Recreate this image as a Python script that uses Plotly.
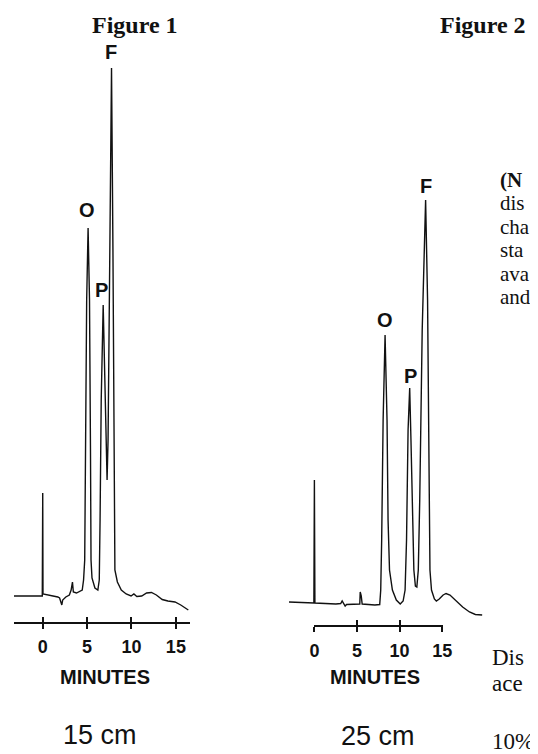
import plotly.graph_objects as go

# page is 538x754; the html body adds an 8 px margin, so the figure is 8 px smaller
PAGE_W, PAGE_H = 538, 754
OFF = 8
W, H = PAGE_W - OFF, PAGE_H - OFF

# ---------------- data ----------------
# Figure 1 : 15 cm column, time in minutes, detector signal (arbitrary units)
fig1_time = [-3.24, -0.05, 0.0, 0.03, 1.7, 1.9, 2.15, 2.25, 2.6, 3.0, 3.2, 3.35, 3.45, 3.8,
             4.45, 4.6, 4.73, 4.78, 4.95, 5.11, 5.27, 5.38, 5.44, 5.55, 5.88, 6.21, 6.37,
             6.46, 6.59, 6.81, 6.98, 7.14, 7.25, 7.36, 7.53, 7.75, 7.91, 8.02, 8.13, 8.41,
             8.85, 9.4, 9.95, 10.27, 10.6, 11.15, 11.7, 12.25, 12.8, 13.46, 14.1, 14.9,
             15.55, 16.4]
fig1_signal = [0.0, 0.0, 20.6, 0.4, -0.2, -0.4, -1.8, -0.8, -0.2, 0.2, 1.2, 2.8, 0.8, 0.6,
               1.2, 3.2, 7.2, 25.2, 59.2, 73.6, 59.2, 29.2, 7.2, 3.6, 1.6, 1.2, 3.2,
               15.2, 39.2, 58.2, 43.2, 27.2, 23.2, 31.2, 69.2, 105.6, 69.2, 29.2, 5.2, 2.8,
               1.2, 0.4, 0.0, 0.4, -0.1, 0.0, 0.6, 0.7, 0.2, -0.7, -1.0, -1.2,
               -1.8, -2.8]

# Figure 2 : 25 cm column
fig2_time = [-2.98, -0.06, 0.0, 0.06, 2.52, 3.09, 3.26, 3.44, 3.61, 3.78, 5.04, 5.33, 5.38,
             5.5, 5.61, 7.1, 7.67, 7.79, 7.9, 8.07, 8.3, 8.53, 8.65, 8.82, 9.16, 9.62,
             10.08, 10.42, 10.65, 10.82, 11.0, 11.19, 11.34, 11.51, 11.68, 11.86, 12.03,
             12.2, 12.37, 12.66, 13.06, 13.29, 13.46, 13.57, 13.75, 14.09, 14.32, 14.66,
             15.12, 15.46, 15.92, 16.61, 17.41, 18.21, 18.9, 19.7]
fig2_signal = [0.2, 0.0, 24.6, 0.0, -0.2, -0.1, 0.4, -0.2, -0.6, -0.3, -0.3, -0.2, 2.2,
               1.4, -0.2, -0.4, -0.3, 2.6, 12.6, 36.6, 53.6, 36.6, 16.6, 6.6, 2.6, 0.6,
               -0.2, 0.4, 2.6, 12.6, 34.6, 43.0, 32.6, 16.6, 6.6, 3.4, 3.2,
               6.6, 20.6, 54.6, 80.6, 60.6, 30.6, 6.6, 2.6, 0.8, 0.4, 0.8,
               1.6, 1.9, 1.6, 0.4, -0.8, -1.8, -2.3, -2.4]

tick_vals = [0, 5, 10, 15]
tick_text = ["0", "5", "10", "15"]

peak_names = ["O", "P", "F"]
fig1_peak_time = [5.11, 6.81, 7.75]
fig1_peak_height = [73.6, 58.2, 105.6]
fig2_peak_time = [8.3, 11.19, 13.06]
fig2_peak_height = [53.6, 43.0, 80.6]

panel_titles = ["Figure 1", "Figure 2"]
column_lengths = ["15 cm", "25 cm"]
axis_title = "MINUTES"

body_text_top = ["<b>(N</b>", "dis", "cha", "sta", "ava", "and"]
body_text_mid = ["Dis", "ace"]
body_text_last = "10%"


# ---------------- layout helpers (page pixel -> paper) ----------------
def px(x):
    return (x - OFF) / W


def py(y):
    return 1 - (y - OFF) / H


def xrange_for(dom_l, dom_r, zero_px, px_per_min):
    return [(dom_l - zero_px) / px_per_min, (dom_r - zero_px) / px_per_min]


def yrange_for(dom_top, dom_bot, base_px, px_per_unit):
    return [-(dom_bot - base_px) / px_per_unit, (base_px - dom_top) / px_per_unit]


ink = "#111111"
sans = "Liberation Sans, Arial, sans-serif"
serif = "Liberation Serif, Times New Roman, serif"

fig = go.Figure()
fig.add_trace(go.Scatter(x=fig1_time, y=fig1_signal, mode="lines", xaxis="x", yaxis="y",
                         line=dict(color=ink, width=1.4), hoverinfo="skip", showlegend=False))
fig.add_trace(go.Scatter(x=fig2_time, y=fig2_signal, mode="lines", xaxis="x2", yaxis="y2",
                         line=dict(color=ink, width=1.4), hoverinfo="skip", showlegend=False))
# empty traces to register the scale-bar subplots
fig.add_trace(go.Scatter(x=[], y=[], xaxis="x3", yaxis="y3", showlegend=False))
fig.add_trace(go.Scatter(x=[], y=[], xaxis="x4", yaxis="y4", showlegend=False))

hidden = dict(visible=False, showgrid=False, zeroline=False)

f1_zero, f1_scale = 39.5, 9.1
f2_zero, f2_scale = 318.0, 8.73

scale_axis = dict(
    showline=True, linecolor=ink, linewidth=1.5,
    ticks="outside", ticklen=5, tickwidth=1.5, tickcolor=ink,
    showgrid=True, gridcolor=ink, gridwidth=1.5,
    zeroline=False, tickmode="array", tickvals=tick_vals,
    ticktext=["<b>%s</b>" % t for t in tick_text],
    tickfont=dict(family=sans, size=18, color=ink), fixedrange=True,
)

fig.update_layout(
    width=W, height=H, margin=dict(l=0, r=0, t=0, b=0),
    paper_bgcolor="white", plot_bgcolor="rgba(0,0,0,0)",
    showlegend=False,
    xaxis=dict(domain=[px(10), px(192)], range=xrange_for(10, 192, f1_zero, f1_scale), **hidden),
    yaxis=dict(domain=[py(616), py(40)], range=yrange_for(40, 616, 596, 5), **hidden),
    xaxis2=dict(domain=[px(290), px(492)], range=xrange_for(290, 492, f2_zero, f2_scale), **hidden),
    yaxis2=dict(domain=[py(618), py(40)], range=yrange_for(40, 618, 603, 5), **hidden),
    xaxis3=dict(domain=[px(10), px(190)], range=xrange_for(10, 190, f1_zero, f1_scale),
                anchor="y3", ticklabelstandoff=3, **scale_axis),
    yaxis3=dict(domain=[py(622), py(617)], range=[0, 1], **hidden),
    xaxis4=dict(domain=[px(317.5), px(449.5)], range=[-0.06, 15.06],
                anchor="y4", ticklabelstandoff=4, **scale_axis),
    yaxis4=dict(domain=[py(625), py(620)], range=[0, 1], **hidden),
)

ann = []
# panel titles
for title, cx in zip(panel_titles, [134, 491]):
    ann.append(dict(text="<b>%s</b>" % title, x=px(cx), y=py(25), xref="paper", yref="paper",
                    showarrow=False, xanchor="center", yanchor="middle",
                    font=dict(family=serif, size=24, color=ink)))
# axis titles and column lengths
for cx, cy, label in [(103, 677, axis_title), (380, 677, axis_title)]:
    ann.append(dict(text="<b>%s</b>" % label, x=px(cx), y=py(cy), xref="paper", yref="paper",
                    showarrow=False, xanchor="center", yanchor="middle",
                    font=dict(family=sans, size=20, color=ink)))
for cx, cy, label in [(98, 735, column_lengths[0]), (383, 736, column_lengths[1])]:
    ann.append(dict(text=label, x=px(cx), y=py(cy), xref="paper", yref="paper",
                    showarrow=False, xanchor="center", yanchor="middle",
                    font=dict(family=sans, size=27, color=ink)))
# peak labels
for xr, yr, times, heights, shifts, dxs in [
        ("x", "y", fig1_peak_time, fig1_peak_height, [18, 15, 16], [-1.5, -2, -1]),
        ("x2", "y2", fig2_peak_time, fig2_peak_height, [15.5, 12.5, 14.5], [0, 1, 0.5])]:
    for name, t, h, s, dx in zip(peak_names, times, heights, shifts, dxs):
        ann.append(dict(text="<b>%s</b>" % name, x=t, y=h, xref=xr, yref=yr, showarrow=False,
                        xanchor="center", yanchor="middle", yshift=s, xshift=dx,
                        font=dict(family=sans, size=20, color=ink)))


# clipped body text at the right edge: one block per paragraph,
# line pitch = 1.3 x base font size, glyphs slightly enlarged with a span
def block(lines, glyph_px):
    return "<br>".join('<span style="font-size:%dpx">%s</span>' % (glyph_px, l) for l in lines)


ann.append(dict(text=block(body_text_top, 21), x=px(506), y=py(166), xref="paper", yref="paper",
                showarrow=False, xanchor="left", yanchor="top", align="left",
                font=dict(family=serif, size=18, color=ink)))
ann.append(dict(text=block(body_text_mid, 23), x=px(498), y=py(643), xref="paper", yref="paper",
                showarrow=False, xanchor="left", yanchor="top", align="left",
                font=dict(family=serif, size=20, color=ink)))
ann.append(dict(text=block([body_text_last], 23), x=px(498), y=py(741), xref="paper", yref="paper",
                showarrow=False, xanchor="left", yanchor="middle", align="left",
                font=dict(family=serif, size=20, color=ink)))

fig.update_layout(annotations=ann)
fig.write_html("out.html", config={"displayModeBar": False})
